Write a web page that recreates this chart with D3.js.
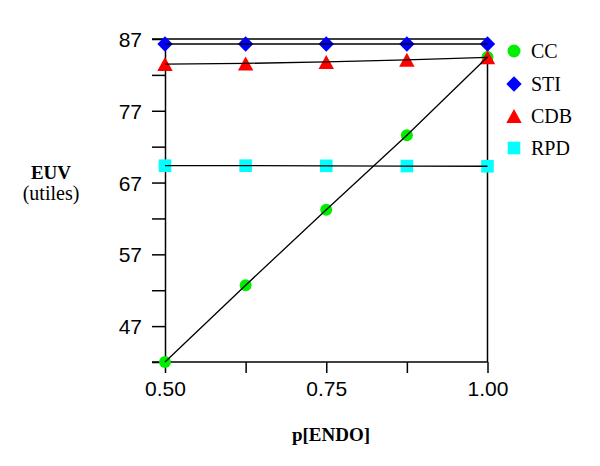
<!DOCTYPE html>
<html>
<head>
<meta charset="utf-8">
<script src="https://cdn.jsdelivr.net/npm/d3@7"></script>
<style>
  html, body { margin: 0; padding: 0; background: #fff; }
  svg { display: block; }
</style>
</head>
<body>
<svg id="chart" width="600" height="466"></svg>
<script>
// ---- Data ----
const pValues = [0.5, 0.625, 0.75, 0.875, 1.0];
const seriesNames = ["CC", "STI", "CDB", "RPD"];
const ccValues  = [42.0, 52.7, 63.2, 73.6, 84.5];
const stiValues = [86.3, 86.3, 86.3, 86.3, 86.3];
const cdbValues = [83.5, 83.6, 83.8, 84.1, 84.45];
const rpdValues = [69.35, 69.35, 69.33, 69.3, 69.27];
const xTickValues = [0.5, 0.625, 0.75, 0.875, 1.0];
const xTickLabels = ["0.50", "", "0.75", "", "1.00"];
const yTickValues = [42, 47, 52, 57, 62, 67, 72, 77, 82, 87];
const yTickLabels = ["", "47", "", "57", "", "67", "", "77", "", "87"];

const seriesColors = { CC: "#00ee00", STI: "#0000ff", CDB: "#ff0000", RPD: "#00ffff" };
const seriesShapes = { CC: "circle", STI: "diamond", CDB: "triangle", RPD: "square" };
const seriesData = { CC: ccValues, STI: stiValues, CDB: cdbValues, RPD: rpdValues };

// ---- Layout ----
const svg = d3.select("#chart");
const plotLeft = 165, plotRight = 487.5, plotTop = 39, plotBottom = 362;
const x = d3.scaleLinear().domain([0.5, 1.0]).range([plotLeft, plotRight]);
const y = d3.scaleLinear().domain([42, 87]).range([plotBottom, plotTop]);

function markerPath(shape, s) {
  if (shape === "circle") {
    const r = s * 0.5;
    return `M${-r},0A${r},${r} 0 1,0 ${r},0A${r},${r} 0 1,0 ${-r},0Z`;
  }
  if (shape === "diamond") {
    const w = s * 0.55, h = s * 0.55;
    return `M0,${-h}L${w},0L0,${h}L${-w},0Z`;
  }
  if (shape === "triangle") {
    const w = s * 0.55, h = s * 0.5;
    return `M0,${-h}L${w},${h}L${-w},${h}Z`;
  }
  const h = s * 0.45;
  return `M${-h},${-h}L${h},${-h}L${h},${h}L${-h},${h}Z`;
}

// ---- Frame: top and right lines ----
svg.append("line").attr("x1", 152).attr("x2", plotRight).attr("y1", plotTop).attr("y2", plotTop)
  .attr("stroke", "#000").attr("stroke-width", 1.5);
svg.append("line").attr("x1", plotRight).attr("x2", plotRight).attr("y1", plotTop).attr("y2", plotBottom)
  .attr("stroke", "#000").attr("stroke-width", 1.5);

// ---- Axes ----
const xAxis = d3.axisBottom(x).tickValues(xTickValues)
  .tickFormat((d, i) => xTickLabels[i]).tickSize(11).tickPadding(8).tickSizeOuter(0);
const gx = svg.append("g").attr("transform", `translate(0,${plotBottom})`).call(xAxis);
gx.select(".domain").attr("d", `M152,0H${plotRight}`);
const yAxis = d3.axisLeft(y).tickValues(yTickValues)
  .tickFormat((d, i) => yTickLabels[i]).tickSize(13).tickPadding(10).tickSizeOuter(0);
const gy = svg.append("g").attr("transform", `translate(${plotLeft},0)`).call(yAxis);

[gx, gy].forEach(g => {
  g.selectAll("path,line").attr("stroke", "#000").attr("stroke-width", 1.5);
  g.selectAll("text").attr("fill", "#000")
    .style("font-family", "'Liberation Sans', Arial, Helvetica, sans-serif")
    .style("font-size", "21px");
});
gy.selectAll("text").attr("dy", "0.36em");

// ---- Markers then lines ----
const line = d3.line().x((d, i) => x(pValues[i])).y(d => y(d));
seriesNames.forEach(name => {
  const vals = seriesData[name];
  svg.append("g").selectAll("path").data(vals).join("path")
    .attr("transform", (d, i) => `translate(${x(pValues[i])},${y(d)})`)
    .attr("d", markerPath(seriesShapes[name], name === "CC" ? 12 : 14))
    .attr("fill", seriesColors[name]);
});
seriesNames.forEach(name => {
  svg.append("path").datum(seriesData[name]).attr("d", line)
    .attr("fill", "none").attr("stroke", "#000").attr("stroke-width", 1.3);
});

// ---- Legend ----
const legendY = [51, 84, 116, 148];
seriesNames.forEach((name, i) => {
  svg.append("path").attr("transform", `translate(514,${legendY[i]})`)
    .attr("d", markerPath(seriesShapes[name], name === "CC" ? 13 : 14))
    .attr("fill", seriesColors[name]);
  svg.append("text").attr("x", 531).attr("y", legendY[i]).attr("dy", "0.35em")
    .text(name)
    .style("font-family", "'Liberation Serif', 'Times New Roman', serif")
    .style("font-size", "20px");
});

// ---- Axis titles ----
svg.append("text").attr("x", 51).attr("y", 179).attr("text-anchor", "middle")
  .text("EUV").style("font-family", "'Liberation Serif', serif")
  .style("font-size", "19px").style("font-weight", "bold");
svg.append("text").attr("x", 51).attr("y", 200).attr("text-anchor", "middle")
  .text("(utiles)").style("font-family", "'Liberation Serif', serif")
  .style("font-size", "20px");
svg.append("text").attr("x", 331).attr("y", 441).attr("text-anchor", "middle")
  .text("p[ENDO]").style("font-family", "'Liberation Serif', serif")
  .style("font-size", "19px").style("font-weight", "bold");
</script>
</body>
</html>
